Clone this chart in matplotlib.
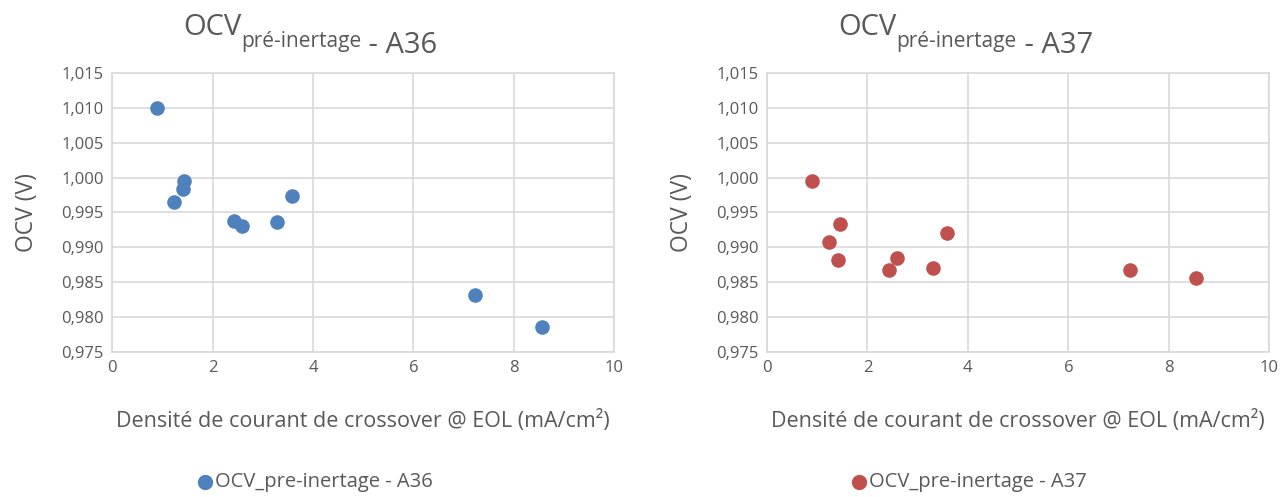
import matplotlib
matplotlib.use("Agg")
import matplotlib.pyplot as plt

plt.rcParams['font.family'] = ['Open Sans', 'DejaVu Sans']

# crossover current density (mA/cm²) and OCV (V)
x_a36 = [0.89, 1.44, 1.41, 1.23, 2.42, 2.59, 3.29, 3.59, 7.22, 8.56]
ocv_a36 = [1.0100, 0.9995, 0.9984, 0.9965, 0.9938, 0.9931, 0.9937, 0.9973, 0.9831, 0.9785]

x_a37 = [0.89, 1.45, 1.24, 1.42, 2.59, 2.42, 3.30, 3.59, 7.22, 8.55]
ocv_a37 = [0.9995, 0.9933, 0.9907, 0.9882, 0.9885, 0.9867, 0.9871, 0.9921, 0.9867, 0.9856]

x_ticks = [0, 2, 4, 6, 8, 10]
y_ticks = [0.975, 0.980, 0.985, 0.990, 0.995, 1.000, 1.005, 1.010, 1.015]
y_labels = ['0,975', '0,980', '0,985', '0,990', '0,995', '1,000', '1,005', '1,010', '1,015']

text_col = '#595959'
grid_col = '#D9D9D9'

fig = plt.figure(figsize=(12.88, 4.97), dpi=100)

panels = [
    (0.087, x_a36, ocv_a36, '#4F81BD', 'A36', 0.142, 0.159),
    (0.5955, x_a37, ocv_a37, '#C0504D', 'A37', 0.651, 0.667),
]

for left, xs, ys, col, name, title_x, leg_x in panels:
    ax = fig.add_axes([left, 0.292, 0.39, 0.561])
    ax.scatter(xs, ys, s=110, color=col, zorder=3, linewidths=0)
    ax.set_xlim(0, 10)
    ax.set_ylim(0.975, 1.015)
    ax.set_xticks(x_ticks)
    ax.set_yticks(y_ticks)
    ax.set_yticklabels(y_labels)
    ax.grid(True, color=grid_col, linewidth=1.2)
    ax.set_axisbelow(True)
    for sp in ax.spines.values():
        sp.set_color(grid_col)
        sp.set_linewidth(1.2)
    ax.tick_params(length=0, labelsize=12, colors=text_col, pad=6)
    ax.set_xlabel('Densité de courant de crossover @ EOL (mA/cm²)', fontsize=15.5,
                  color=text_col, labelpad=24)
    ax.set_ylabel('OCV (V)', fontsize=16.5, color=text_col, labelpad=16)

    # title with subscript
    t1 = fig.text(title_x, 0.945, 'OCV', fontsize=21, color=text_col, ha='left', va='center')
    t2 = ax.annotate('pré-inertage', xy=(1, 0.0), xycoords=t1, fontsize=15,
                     color=text_col, ha='left', va='center', annotation_clip=False)
    ax.annotate(' - ' + name, xy=(1, 1.0), xycoords=t2, fontsize=21,
                color=text_col, ha='left', va='top', annotation_clip=False)

    # legend
    fig.lines.append(plt.Line2D([leg_x], [0.030], marker='o', markersize=10,
                                color=col, linestyle='none', transform=fig.transFigure))
    fig.text(leg_x + 0.008, 0.030, 'OCV_pre-inertage - ' + name, fontsize=14.5,
             color=text_col, ha='left', va='center')

fig.savefig('out.png', dpi=100)
